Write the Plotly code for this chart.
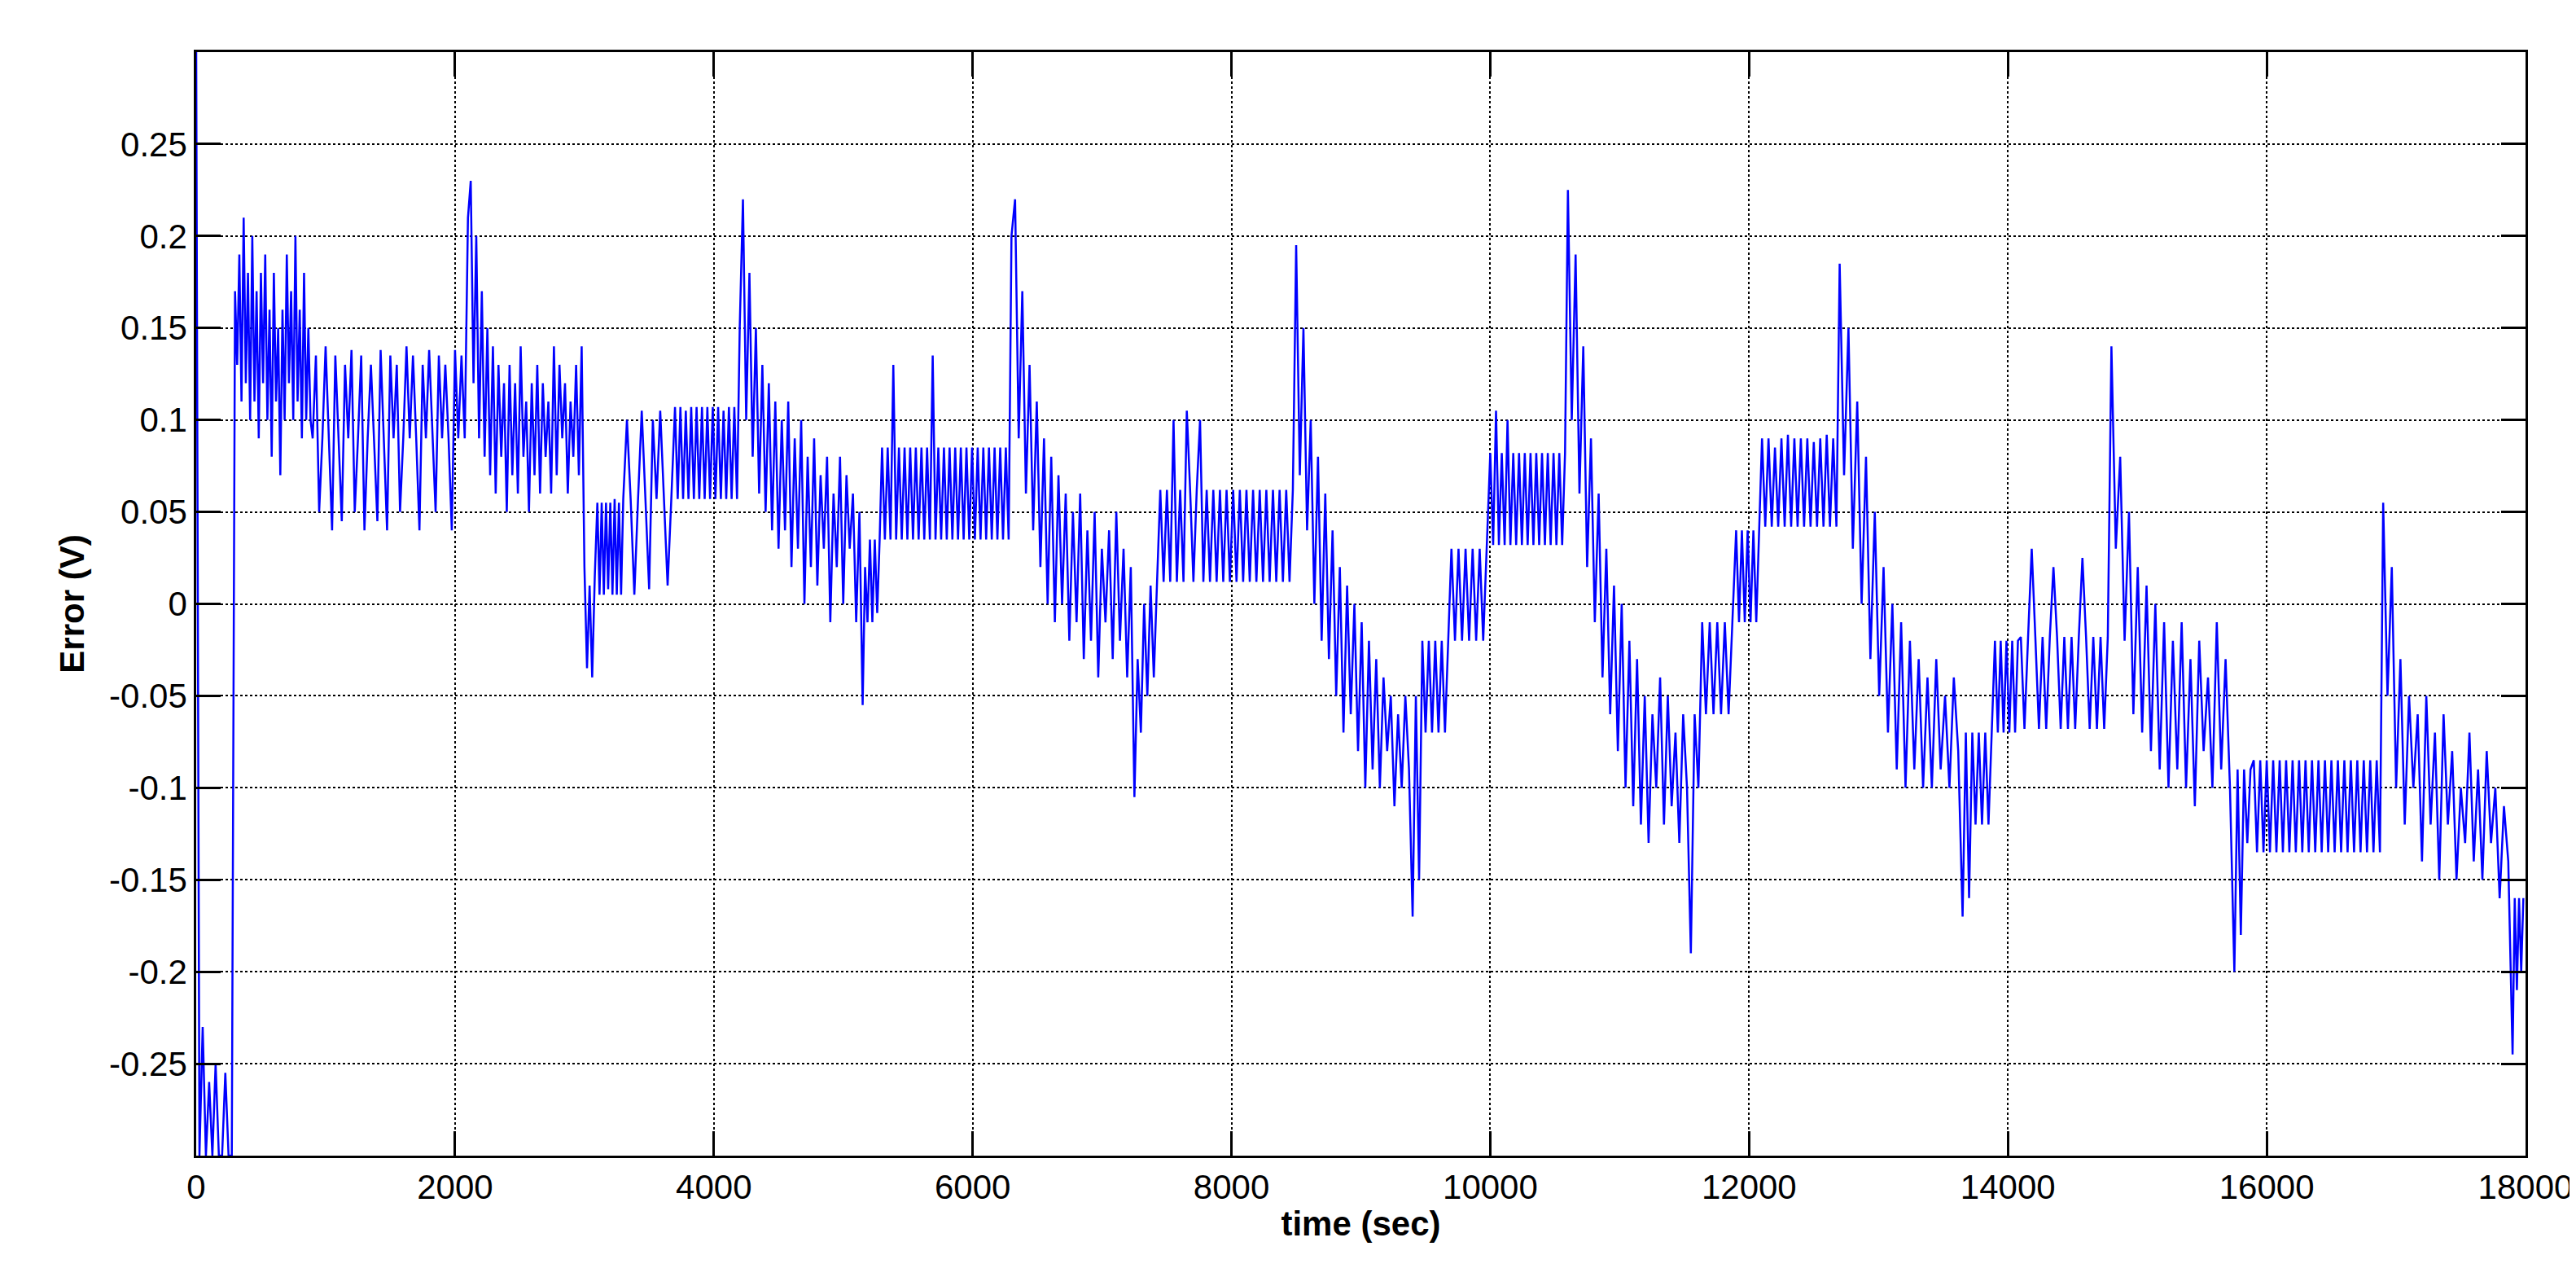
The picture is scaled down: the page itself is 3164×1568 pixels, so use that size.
import numpy as np
import plotly.graph_objects as go

# segments: (t_start, t_end, values)
seg_a = (0, 300, [0.3, -0.3, -0.23, -0.3, -0.26, -0.3, -0.25, -0.3, -0.3, -0.255, -0.3, -0.3])
seg_b = (300, 900, [0.17, 0.13, 0.19, 0.11, 0.21, 0.12, 0.18, 0.10, 0.2, 0.11, 0.17, 0.09, 0.18, 0.12,
                    0.19, 0.1, 0.16, 0.08, 0.18, 0.11, 0.15, 0.07, 0.16, 0.1, 0.19, 0.12, 0.17, 0.1,
                    0.2, 0.11, 0.16, 0.09, 0.18, 0.1, 0.15, 0.1])
seg_c = (900, 2100, [0.09, 0.135, 0.05, 0.09, 0.14, 0.09, 0.04, 0.135, 0.09, 0.045, 0.13, 0.09, 0.138, 0.05,
                     0.09, 0.135, 0.04, 0.09, 0.13, 0.09, 0.045, 0.138, 0.09, 0.04, 0.135, 0.09, 0.13, 0.05,
                     0.09, 0.14, 0.09, 0.135, 0.09, 0.04, 0.13, 0.09, 0.138, 0.09, 0.05, 0.135, 0.09, 0.13,
                     0.09, 0.04, 0.138, 0.09, 0.135, 0.09])
seg_d = (2100, 3000, [0.21, 0.23, 0.12, 0.2, 0.09, 0.17, 0.08, 0.15, 0.07, 0.14, 0.06, 0.13, 0.08, 0.12, 0.05,
                      0.13, 0.07, 0.12, 0.06, 0.14, 0.08, 0.11, 0.05, 0.12, 0.07, 0.13, 0.06, 0.12, 0.08, 0.11,
                      0.06, 0.14, 0.07, 0.13, 0.09, 0.12, 0.06, 0.11, 0.08, 0.13, 0.07, 0.14])
seg_e = (3000, 3100, [0.02, -0.035, 0.01, -0.04, 0.015])
seg_f = (3100, 3300, [0.055, 0.005, 0.055, 0.005, 0.055, 0.008, 0.055, 0.005, 0.057, 0.005, 0.055, 0.005])
seg_g = (3300, 3700, [0.057, 0.1, 0.057, 0.005, 0.057, 0.105, 0.057, 0.008, 0.1, 0.057, 0.105, 0.057, 0.01, 0.057])
seg_h = (3700, 4200, [0.107, 0.057, 0.107, 0.057, 0.105, 0.057, 0.107, 0.057, 0.107, 0.057, 0.107, 0.057,
                      0.107, 0.057, 0.107, 0.057, 0.107, 0.057, 0.105, 0.057, 0.107, 0.057, 0.107, 0.057])
seg_i = (4200, 5150, [0.15, 0.22, 0.1, 0.18, 0.08, 0.15, 0.06, 0.13, 0.05, 0.12, 0.04, 0.11, 0.03, 0.1, 0.04,
                      0.11, 0.02, 0.09, 0.03, 0.1, 0.0, 0.08, 0.02, 0.09, 0.01, 0.07, 0.03, 0.08, -0.01, 0.06,
                      0.02, 0.08, 0.0, 0.07, 0.03, 0.06, -0.01, 0.05])
seg_j = (5150, 5300, [-0.055, 0.02, -0.01, 0.035, -0.01, 0.035, -0.005, 0.035])
seg_k = (5300, 6300, [0.085, 0.035, 0.085, 0.035, 0.13, 0.035, 0.085, 0.035, 0.085, 0.035, 0.085, 0.035, 0.085,
                      0.035, 0.085, 0.035, 0.085, 0.035, 0.135, 0.035, 0.085, 0.035, 0.085, 0.035, 0.085, 0.035,
                      0.085, 0.035, 0.085, 0.035, 0.085, 0.035, 0.085, 0.035, 0.085, 0.035, 0.085, 0.035,
                      0.085, 0.035, 0.085, 0.035, 0.085, 0.035, 0.085, 0.035])
seg_l = (6300, 7250, [0.2, 0.22, 0.09, 0.17, 0.06, 0.13, 0.04, 0.11, 0.02, 0.09, 0.0, 0.08, -0.01, 0.07, 0.0,
                      0.06, -0.02, 0.05, -0.01, 0.06, -0.03, 0.04, -0.02, 0.05, -0.04, 0.03, -0.01, 0.04,
                      -0.03, 0.05, -0.02, 0.03, -0.04, 0.02])
seg_m = (7250, 7450, [-0.105, -0.03, -0.07, 0.0, -0.05, 0.01, -0.04, 0.012])
seg_n = (7450, 8500, [0.062, 0.012, 0.062, 0.012, 0.1, 0.012, 0.062, 0.012, 0.105, 0.062, 0.012, 0.062, 0.1,
                      0.012, 0.062, 0.012, 0.062, 0.012, 0.062, 0.012, 0.062, 0.012, 0.062, 0.012, 0.062,
                      0.012, 0.062, 0.012, 0.062, 0.012, 0.062, 0.012, 0.062, 0.012, 0.062, 0.012, 0.062,
                      0.012, 0.062, 0.012, 0.062])
seg_o = (8500, 9400, [0.195, 0.07, 0.15, 0.04, 0.1, 0.0, 0.08, -0.02, 0.06, -0.03, 0.04, -0.05, 0.02, -0.07,
                      0.01, -0.06, 0.0, -0.08, -0.01, -0.1, -0.02, -0.09, -0.03, -0.1, -0.04, -0.08, -0.05,
                      -0.11, -0.06, -0.1, -0.05, -0.09])
seg_p = (9400, 9700, [-0.17, -0.05, -0.15, -0.02, -0.07, -0.02, -0.07, -0.02, -0.07, -0.02, -0.07, -0.02])
seg_q = (9700, 10000, [0.03, -0.02, 0.03, -0.02, 0.03, -0.02, 0.03, -0.02, 0.03, -0.02, 0.032])
seg_r = (10000, 10600, [0.082, 0.032, 0.105, 0.032, 0.082, 0.032, 0.1, 0.032, 0.082, 0.032, 0.082, 0.032,
                        0.082, 0.032, 0.082, 0.032, 0.082, 0.032, 0.082, 0.032, 0.082, 0.032, 0.082, 0.032,
                        0.082, 0.032, 0.082])
seg_s = (10600, 11550, [0.225, 0.1, 0.19, 0.06, 0.14, 0.02, 0.09, -0.01, 0.06, -0.04, 0.03, -0.06, 0.01,
                        -0.08, 0.0, -0.1, -0.02, -0.11, -0.03, -0.12, -0.05, -0.13, -0.06, -0.1, -0.04,
                        -0.12, -0.05, -0.11, -0.07, -0.13, -0.06, -0.1])
seg_t = (11550, 11900, [-0.19, -0.06, -0.1, -0.01, -0.06, -0.01, -0.06, -0.01, -0.06, -0.01, -0.06, -0.01])
seg_u = (11900, 12100, [0.04, -0.01, 0.04, -0.01, 0.04, -0.01, 0.04, -0.01, 0.04])
seg_v = (12100, 12700, [0.09, 0.042, 0.09, 0.042, 0.085, 0.042, 0.09, 0.042, 0.092, 0.042, 0.09, 0.042,
                        0.09, 0.042, 0.09, 0.042, 0.088, 0.042, 0.09, 0.042, 0.092, 0.042, 0.09, 0.042])
seg_w = (12700, 13650, [0.185, 0.07, 0.15, 0.03, 0.11, 0.0, 0.08, -0.03, 0.05, -0.05, 0.02, -0.07, 0.0,
                        -0.09, -0.01, -0.1, -0.02, -0.09, -0.03, -0.1, -0.04, -0.1, -0.03, -0.09, -0.05,
                        -0.1, -0.04, -0.08])
seg_x = (13650, 13900, [-0.17, -0.07, -0.16, -0.07, -0.12, -0.07, -0.12, -0.07, -0.12, -0.07])
seg_y = (13900, 14100, [-0.02, -0.07, -0.02, -0.07, -0.02, -0.07, -0.02, -0.07, -0.02])
seg_z = (14100, 14800, [-0.018, -0.068, -0.018, 0.03, -0.018, -0.068, -0.018, -0.068, -0.018, 0.02, -0.018,
                        -0.068, -0.018, -0.068, -0.018, -0.068, -0.018, 0.025, -0.018, -0.068, -0.018,
                        -0.068, -0.018, -0.068, -0.018])
seg_aa = (14800, 15750, [0.14, 0.03, 0.08, -0.02, 0.05, -0.06, 0.02, -0.07, 0.01, -0.08, 0.0, -0.09, -0.01,
                         -0.1, -0.02, -0.09, -0.01, -0.1, -0.03, -0.11, -0.02, -0.08, -0.04, -0.1, -0.01,
                         -0.09, -0.03, -0.1])
seg_ab = (15750, 15900, [-0.2, -0.09, -0.18, -0.09, -0.13, -0.09])
seg_ac = (15900, 16900, [-0.085, -0.135, -0.085, -0.135, -0.085, -0.135, -0.085, -0.135, -0.085, -0.135,
                         -0.085, -0.135, -0.085, -0.135, -0.085, -0.135, -0.085, -0.135, -0.085, -0.135,
                         -0.085, -0.135, -0.085, -0.135, -0.085, -0.135, -0.085, -0.135, -0.085, -0.135,
                         -0.085, -0.135, -0.085, -0.135, -0.085, -0.135, -0.085, -0.135, -0.085, -0.135])
seg_ad = (16900, 17900, [0.055, -0.05, 0.02, -0.1, -0.03, -0.12, -0.05, -0.1, -0.06, -0.14, -0.05, -0.12,
                         -0.07, -0.15, -0.06, -0.12, -0.08, -0.15, -0.1, -0.13, -0.07, -0.14, -0.09, -0.15,
                         -0.08, -0.13, -0.1, -0.16, -0.11, -0.14])
seg_ae = (17900, 18000, [-0.245, -0.16, -0.21, -0.16, -0.2, -0.16])

segments = [seg_a, seg_b, seg_c, seg_d, seg_e, seg_f, seg_g, seg_h, seg_i, seg_j, seg_k, seg_l, seg_m,
            seg_n, seg_o, seg_p, seg_q, seg_r, seg_s, seg_t, seg_u, seg_v, seg_w, seg_x, seg_y, seg_z,
            seg_aa, seg_ab, seg_ac, seg_ad, seg_ae]

x_ticks = list(range(0, 18001, 2000))
x_labels = [str(v) for v in x_ticks]
y_ticks = [-0.25, -0.2, -0.15, -0.1, -0.05, 0, 0.05, 0.1, 0.15, 0.2, 0.25]
y_labels = ['-0.25', '-0.2', '-0.15', '-0.1', '-0.05', '0', '0.05', '0.1', '0.15', '0.2', '0.25']

t, err = [], []
for t0, t1, vals in segments:
    # spread the read values evenly over the segment
    t.extend(np.linspace(t0, t1, len(vals), endpoint=False))
    err.extend(vals)

fig = go.Figure(go.Scatter(x=t, y=err, mode='lines', line=dict(color='#0000ff', width=2.5)))

axis_common = dict(showline=True, linecolor='black', linewidth=2.5, mirror='ticks',
                   ticks='inside', ticklen=30, tickwidth=2.5, tickcolor='black',
                   showgrid=True, gridcolor='black', gridwidth=2, griddash='dot',
                   zeroline=False, tickfont=dict(family='Liberation Sans', size=42, color='black'))
title_font = dict(family='Liberation Sans', size=42, color='black')

fig.update_xaxes(range=[0, 18000], tickvals=x_ticks, ticktext=x_labels, **axis_common,
                 title=dict(text='<b>time (sec)</b>', font=title_font, standoff=8))
fig.update_yaxes(range=[-0.3, 0.3], tickvals=y_ticks, ticktext=y_labels, **axis_common,
                 title=dict(text='<b>Error (V)</b>', font=title_font, standoff=18))

fig.update_layout(width=3164, height=1568, plot_bgcolor='white', paper_bgcolor='white',
                  showlegend=False, margin=dict(l=233, r=63, t=56, b=157))
fig.write_html("out.html")
